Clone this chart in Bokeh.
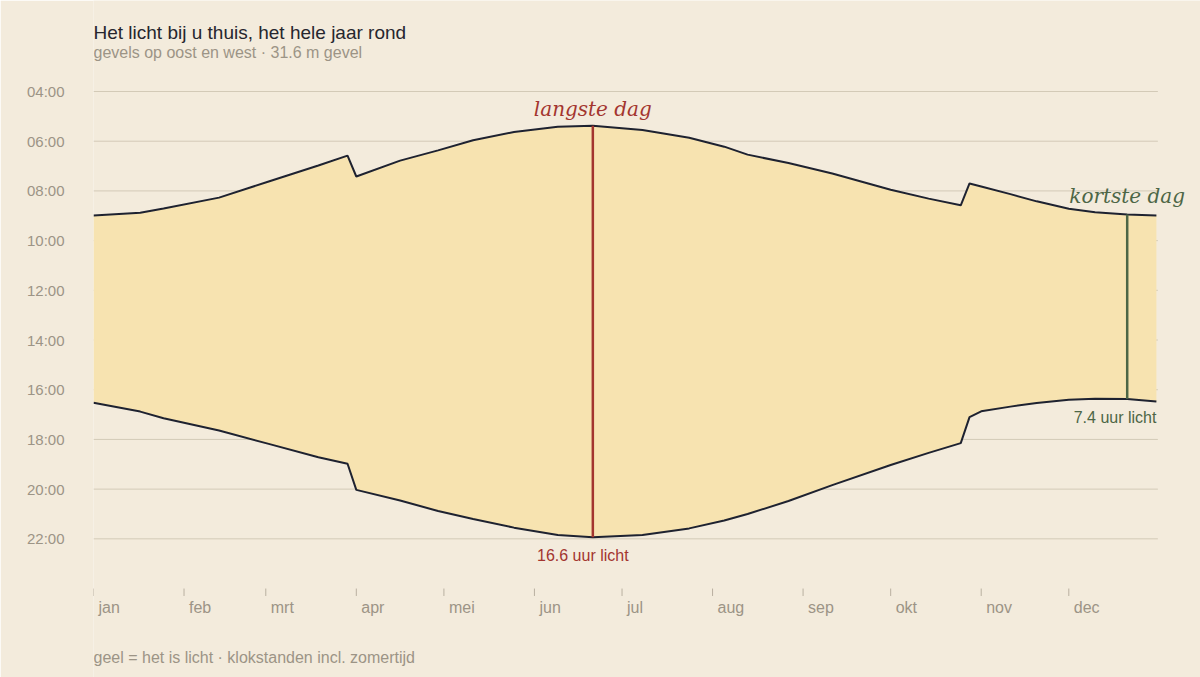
from bokeh.plotting import figure
from bokeh.models import Range1d, FixedTicker
from bokeh.core.properties import value
from bokeh.embed import file_html
from bokeh.resources import INLINE

# ---- data (day of year, 0 = 1 jan) ----
days = [0, 16, 24, 43, 60, 77, 87, 90, 105, 118, 130, 144, 159, 171, 188, 204,
        216, 224, 238, 253, 273, 286, 297, 300, 304, 314, 323, 334, 343, 354, 364]
sunrise = [8.99, 8.88, 8.71, 8.27, 7.62, 6.98, 6.58, 7.42, 6.78, 6.37, 5.96, 5.63,
           5.42, 5.38, 5.55, 5.86, 6.22, 6.54, 6.88, 7.30, 7.95, 8.31, 8.58, 7.70,
           7.82, 8.13, 8.42, 8.72, 8.86, 8.95, 8.99]
sunset = [16.52, 16.88, 17.15, 17.64, 18.18, 18.72, 18.98, 20.03, 20.46, 20.88,
          21.20, 21.55, 21.85, 21.94, 21.85, 21.58, 21.26, 21.00, 20.48, 19.84,
          19.03, 18.54, 18.15, 17.10, 16.87, 16.68, 16.53, 16.40, 16.36, 16.37, 16.47]
month_starts = [0, 31, 59, 90, 120, 151, 181, 212, 243, 273, 304, 334]
month_names = ["jan", "feb", "mrt", "apr", "mei", "jun", "jul", "aug", "sep", "okt", "nov", "dec"]
hour_ticks = [4, 6, 8, 10, 12, 14, 16, 18, 20, 22]
hour_labels = ["04:00", "06:00", "08:00", "10:00", "12:00", "14:00", "16:00", "18:00", "20:00", "22:00"]
longest_day = 171
longest_label = "16.6 uur licht"
shortest_day = 354
shortest_label = "7.4 uur licht"
last_day = 364
year_end = 364.5

title_text = "Het licht bij u thuis, het hele jaar rond"
subtitle_text = "gevels op oost en west \u00b7 31.6 m gevel"
footer_text = "geel = het is licht \u00b7 klokstanden incl. zomertijd"

BG = "#f3ebdc"
FILL = "#f7e3b0"
LINE = "#1e2230"
RED = "#a3352f"
GREEN = "#4d6646"
GRID = "#d3cab7"
MUTED = "#9c9486"
SANS = "Liberation Sans"
SERIF = "DejaVu Serif"

p = figure(width=1200, height=677, output_backend="svg", toolbar_location=None,
           x_range=Range1d(0, 379.1), y_range=Range1d(27.58, 0.338),
           min_border_left=93, min_border_right=0, min_border_top=0, min_border_bottom=0,
           background_fill_color=BG, border_fill_color=BG, outline_line_color=None)
p.xaxis.visible = False
p.xgrid.visible = False
p.ygrid.visible = False

ya = p.yaxis[0]
ya.ticker = FixedTicker(ticks=hour_ticks)
ya.major_label_overrides = {t: l for t, l in zip(hour_ticks, hour_labels)}
ya.axis_line_color = None
ya.major_tick_line_color = None
ya.minor_tick_line_color = None
ya.major_label_standoff = 23
ya.major_label_text_font = SANS
ya.major_label_text_font_size = "15px"
ya.major_label_text_color = MUTED

# grid lines
p.segment(x0=[0] * len(hour_ticks), x1=[year_end] * len(hour_ticks), y0=hour_ticks, y1=hour_ticks,
          line_color=GRID, line_width=1)

# daylight band
p.varea(x=days, y1=sunrise, y2=sunset, fill_color=FILL)
p.line(days, sunrise, line_color=LINE, line_width=2)
p.line(days, sunset, line_color=LINE, line_width=2)

# markers for longest / shortest day
i_long = days.index(longest_day)
i_short = days.index(shortest_day)
p.segment(x0=[longest_day], x1=[longest_day], y0=[sunrise[i_long]], y1=[sunset[i_long]],
          line_color=RED, line_width=2.5)
p.segment(x0=[shortest_day], x1=[shortest_day], y0=[sunrise[i_short]], y1=[sunset[i_short]],
          line_color=GREEN, line_width=2.5)

p.text(x=[longest_day], y=[sunrise[i_long] - 0.68], text=["langste dag"], text_font=value(SERIF),
       text_font_style="italic", text_font_size="20px", text_color=RED,
       text_align="center", text_baseline="middle")
p.text(x=[longest_day], y=[sunset[i_long] + 0.73], text=[longest_label], text_font=value(SANS),
       text_font_size="16px", text_color=RED, text_align="center", text_baseline="middle",
       x_offset=-10)
p.text(x=[shortest_day], y=[sunrise[i_short] - 0.73], text=["kortste dag"], text_font=value(SERIF),
       text_font_style="italic", text_font_size="20px", text_color=GREEN,
       text_align="center", text_baseline="middle")
p.text(x=[last_day], y=[sunset[-1] + 0.65], text=[shortest_label], text_font=value(SANS),
       text_font_size="16px", text_color=GREEN, text_align="right", text_baseline="middle")

# month ticks and labels
p.segment(x0=month_starts, x1=month_starts, y0=[24.0] * 12, y1=[24.3] * 12,
          line_color="#b9b0a0", line_width=1)
p.text(x=month_starts, y=[24.77] * 12, text=month_names, text_font=value(SANS),
       text_font_size="16px", text_color=MUTED, text_align="left", text_baseline="middle",
       x_offset=5)

# title, subtitle, footer
p.text(x=[0], y=[1.63], text=[title_text], text_font=value(SANS), text_font_size="19px",
       text_color="#26262e", text_align="left", text_baseline="middle")
p.text(x=[0], y=[2.43], text=[subtitle_text], text_font=value(SANS), text_font_size="16px",
       text_color=MUTED, text_align="left", text_baseline="middle")
p.text(x=[0], y=[26.78], text=[footer_text], text_font=value(SANS), text_font_size="16px",
       text_color=MUTED, text_align="left", text_baseline="middle")

open("out.html", "w").write(file_html(p, INLINE))
